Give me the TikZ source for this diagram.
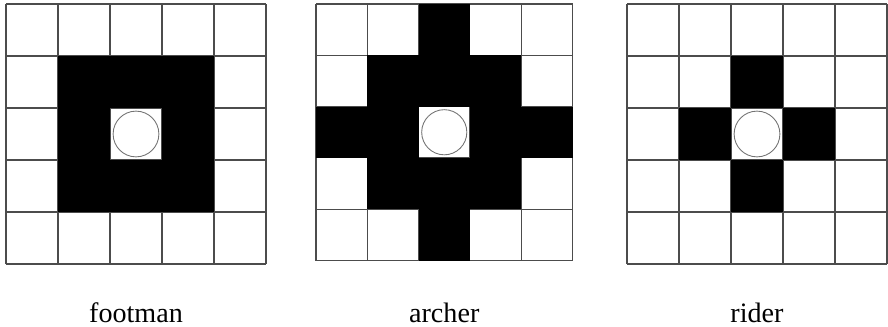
\documentclass[tikz,border=0pt]{standalone}
\usepackage{fontspec}
\setmainfont{Liberation Serif}
\usetikzlibrary{positioning}

\tikzset{
  gridline/.style={black!70, line width=0.6pt},
  blackcell/.style={fill=black},
  unitmark/.style={black!55, line width=0.5pt},
  unitlabel/.style={anchor=base, font=\fontsize{16}{19}\selectfont}
}

\begin{document}
\begin{tikzpicture}
    % Fixed frame of the figure
    \useasboundingbox (0,0) rectangle (17.76,6.52);
    % One grid per unit: left edge / cell size / black cells / name
    \foreach \gx/\gs/\cells/\name in {
      0.12/1.04/{1/1,2/1,3/1,1/2,3/2,1/3,2/3,3/3}/footman,
      6.32/1.026/{2/0,1/1,2/1,3/1,0/2,1/2,3/2,4/2,1/3,2/3,3/3,2/4}/archer,
      12.54/1.04/{2/1,1/2,3/2,2/3}/rider
    }
    {
      \begin{scope}[shift={(\gx,6.44-5*\gs)}, scale=\gs]
        \draw[gridline] (0,0) grid (5,5);
        \foreach \c/\r in \cells
          \fill[blackcell] (\c,\r) rectangle ++(1,1);
        % Unit position
        \draw[unitmark] (2.5,2.5) circle (0.44);
      \end{scope}
      \node[unitlabel] (\name) at (\gx+2.5*\gs,0.08) {\name};
    }
\end{tikzpicture}
\end{document}
